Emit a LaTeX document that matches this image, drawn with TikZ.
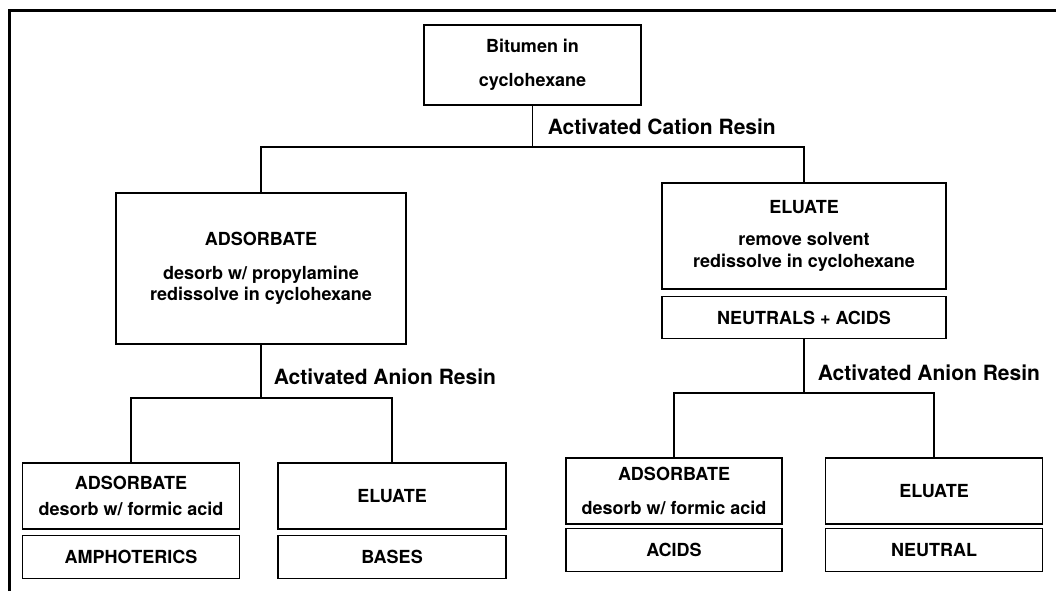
\documentclass[tikz,border=0pt]{standalone}
\usepackage{fontspec}
\setmainfont{TeX Gyre Heros}
\usetikzlibrary{positioning}

\begin{document}
\begin{tikzpicture}[
            x = 1pt, y = -1pt, % pixel units, y going down
            line width = 1.6pt, % line style
            node distance = 5pt, % gap between stacked boxes
            font = \bfseries\fontsize{18}{21.6}\selectfont
        ]

        \tikzstyle{box}=[
            draw = black,
            inner sep = 0pt,
            align = center,
            minimum height = 66pt
        ]
        \tikzstyle{result}=[box, minimum height = 43pt]
        \tikzstyle{resin}=[
            anchor = west,
            inner sep = 0pt,
            font = \bfseries\fontsize{21}{25}\selectfont
        ]

        \useasboundingbox (0,0) rectangle (1056,591);
        \draw[line width = 3pt] (9,591) -- (9,11) -- (1056,11);

        \node[box, minimum width = 217pt, minimum height = 80pt] (bitumen) at (532.5,65) {Bitumen in\\[12pt]cyclohexane};

        \node[box, minimum width = 290pt, minimum height = 151pt] (adsA) at (261,268.5) {ADSORBATE\\[12pt]desorb w/ propylamine\\redissolve in cyclohexane};
        \node[box, minimum width = 284pt, minimum height = 106pt] (eluA) at (804,236) {ELUATE\\[10pt]remove solvent\\redissolve in cyclohexane};
        \node[result, minimum width = 284pt, minimum height = 42pt] (neutacid) [below=6pt of eluA] {NEUTRALS + ACIDS};

        \node[box, minimum width = 217pt] (adsB) at (131,496) {ADSORBATE\\[4pt]desorb w/ formic acid};
        \node[result, minimum width = 217pt] (amph) [below=of adsB] {AMPHOTERICS};
        \node[box, minimum width = 228pt] (eluB) at (392,496) {ELUATE};
        \node[result, minimum width = 228pt] (bases) [below=of eluB] {BASES};

        \node[box, minimum width = 216pt] (adsC) at (674,491) {ADSORBATE\\[12pt]desorb w/ formic acid};
        \node[result, minimum width = 216pt] (acids) [below=3pt of adsC] {ACIDS};
        \node[box, minimum width = 217pt] (eluC) at (934,491) {ELUATE};
        \node[result, minimum width = 217pt] (neutral) [below=3pt of eluC] {NEUTRAL};

        \coordinate (cation) at (532.5,147);
        \coordinate (anionL) at (261,398);
        \coordinate (anionR) at (804,393);

        \node[resin] (cationtxt) at (547,127) {Activated Cation Resin};
        \node[resin] (aniontxtL) at (273,377) {Activated Anion Resin};
        \node[resin] (aniontxtR) at (817,373) {Activated Anion Resin};

        \draw (bitumen) -- (cation);
        \draw (adsA.north) |- (cation) -| (eluA.north);
        \draw (adsA) -- (anionL);
        \draw (adsB.north) |- (anionL) -| (eluB.north);
        \draw (neutacid) -- (anionR);
        \draw (adsC.north) |- (anionR) -| (eluC.north);

\end{tikzpicture}
\end{document}
